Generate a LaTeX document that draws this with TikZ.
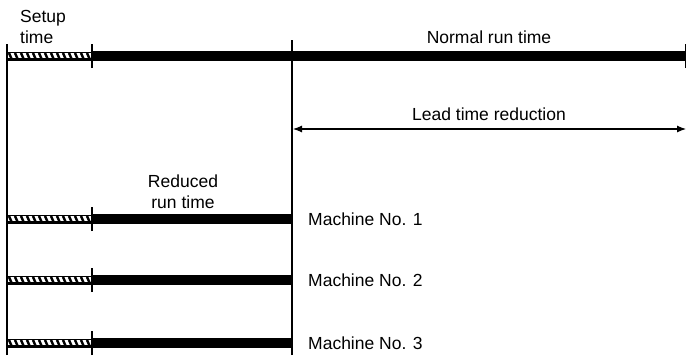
\documentclass[tikz,border=0pt]{standalone}
\usepackage{fontspec}
\setmainfont{Liberation Sans}
\usetikzlibrary{arrows.meta,positioning}

% one job bar: hatched setup part, solid run part, end ticks
% #1 = row y, #2 = end x, #3 = name prefix
\newcommand{\jobbar}[3]{%
  \coordinate (#3-a) at (7,#1);
  \coordinate (#3-b) at (92,#1);
  \coordinate (#3-c) at (#2,#1);
  \draw[setupedge] ([yshift=-3.5pt]#3-a) -- ([yshift=-3.5pt]#3-b);
  \draw[line width=0.8pt] ([yshift=3.8pt]#3-a) -- ([yshift=3.8pt]#3-b);
  \foreach \hx in {9,15,...,87}
    \draw[hatch] (\hx,#1-3) -- (\hx+3,#1+3.8);
  \draw[runbar] (#3-b) -- (#3-c);
  \draw[tick] ([yshift=-12pt]#3-a) -- ([yshift=12pt]#3-a);
  \draw[tick] ([yshift=-12pt]#3-b) -- ([yshift=12pt]#3-b);
  \draw[tick] ([yshift=-12pt]#3-c) -- ([yshift=12pt]#3-c);
}

\begin{document}
\begin{tikzpicture}[
    x=1pt, y=-1pt,
    lbl/.style={font=\fontsize{17.5}{21}\selectfont, inner sep=0pt},
    runbar/.style={line width=10pt},
    setupedge/.style={line width=2.2pt},
    hatch/.style={line width=2.4pt},
    tick/.style={line width=1.4pt},
    guide/.style={line width=1.1pt}
  ]
  \useasboundingbox (0,0) rectangle (686,359);

  % normal run
  \jobbar{56}{686}{norm}
  \node[lbl, anchor=west, align=left] (setup) at (20,27) {Setup\\time};
  \node[lbl] (normal) at (489,37) {Normal run time};

  % split runs on three machines
  \jobbar{219}{292}{m1}
  \jobbar{280}{292}{m2}
  \jobbar{343}{292}{m3}
  \node[lbl, align=center] (reduced) at (183,192) {Reduced\\run time};
  \node[lbl, anchor=west] (mach1) at ([xshift=16pt]m1-c) {Machine No. 1};
  \node[lbl, anchor=west] (mach2) at ([xshift=16pt]m2-c) {Machine No. 2};
  \node[lbl, anchor=west] (mach3) at ([xshift=16pt]m3-c) {Machine No. 3};

  % guide lines
  \coordinate (split-top) at (292,40);
  \coordinate (split-bot) at (292,355);
  \coordinate (left-bot) at (7,355);
  \draw[guide] (norm-a) -- (left-bot);
  \draw[guide] (split-top) -- (split-bot);

  % lead time saved
  \coordinate (lead-l) at (293,129);
  \coordinate (lead-r) at (686,129);
  \draw[guide, {Latex[length=9pt,width=7pt]}-{Latex[length=9pt,width=7pt]}] (lead-l) -- (lead-r);
  \node[lbl] (lead) at (489,114) {Lead time reduction};
\end{tikzpicture}
\end{document}
